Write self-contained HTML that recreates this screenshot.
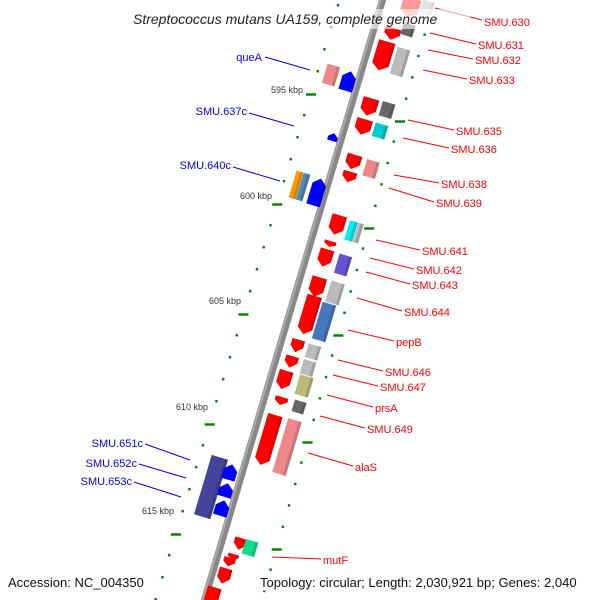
<!DOCTYPE html>
<html><head><meta charset="utf-8"><style>
body{margin:0;background:#fff;width:600px;height:600px;overflow:hidden}
svg{display:block}
text{font-family:"Liberation Sans","DejaVu Sans",sans-serif}
</style></head><body>
<svg id="s" width="600" height="600" viewBox="0 0 600 600" xmlns="http://www.w3.org/2000/svg">
<defs>
<g id="fa"><polygon points="-9,-7 9,-7 9,4 0,9 -9,4"/></g>
</defs>
<g id="dots"></g>
<!-- backbone -->
<line x1="384" y1="-5" x2="203" y2="605" stroke="#888" stroke-width="7"/>
<line x1="382" y1="-5" x2="201" y2="605" stroke="#aaa" stroke-width="2"/>
<g id="genes"></g>
<g stroke-width="1" fill="none">
<g stroke="#f00">
<line x1="435" y1="8" x2="482" y2="20"/><line x1="430" y1="33" x2="476" y2="44"/>
<line x1="428" y1="50" x2="473" y2="59"/><line x1="423" y1="70" x2="467" y2="79"/>
<line x1="408" y1="120" x2="454" y2="130"/><line x1="403" y1="138" x2="449" y2="148"/>
<line x1="394" y1="175" x2="439" y2="183"/><line x1="389" y1="188" x2="434" y2="202"/>
<line x1="376" y1="240" x2="420" y2="250"/><line x1="370" y1="258" x2="414" y2="269"/>
<line x1="366" y1="272" x2="410" y2="284"/><line x1="357" y1="298" x2="402" y2="311"/>
<line x1="348" y1="330" x2="394" y2="341"/><line x1="338" y1="360" x2="383" y2="371"/>
<line x1="333" y1="375" x2="378" y2="386"/><line x1="327" y1="395" x2="373" y2="407"/>
<line x1="320" y1="416" x2="365" y2="428"/><line x1="308" y1="453" x2="353" y2="466"/>
<line x1="272" y1="557" x2="321" y2="559"/>
</g>
<g stroke="#00f">
<line x1="265" y1="57" x2="310" y2="70"/><line x1="249" y1="113" x2="294" y2="126"/>
<line x1="233" y1="167" x2="280" y2="181"/><line x1="145" y1="444" x2="190" y2="460"/>
<line x1="139" y1="464" x2="186" y2="478"/><line x1="134" y1="482" x2="181" y2="497"/>
</g></g>
<g font-size="11" fill="#f00">
<text x="484" y="26">SMU.630</text><text x="478" y="49">SMU.631</text>
<text x="475" y="64">SMU.632</text><text x="469" y="84">SMU.633</text>
<text x="456" y="135">SMU.635</text><text x="451" y="153">SMU.636</text>
<text x="441" y="188">SMU.638</text><text x="436" y="207">SMU.639</text>
<text x="422" y="255">SMU.641</text><text x="416" y="274">SMU.642</text>
<text x="412" y="289">SMU.643</text><text x="404" y="316">SMU.644</text>
<text x="396" y="346">pepB</text><text x="385" y="376">SMU.646</text>
<text x="380" y="391">SMU.647</text><text x="375" y="412">prsA</text>
<text x="367" y="433">SMU.649</text><text x="355" y="471">alaS</text>
<text x="323" y="564">mutF</text>
</g>
<g font-size="11" fill="#00f" text-anchor="end">
<text x="262" y="61">queA</text><text x="247" y="115">SMU.637c</text>
<text x="231" y="169">SMU.640c</text><text x="143" y="447">SMU.651c</text>
<text x="137" y="467">SMU.652c</text><text x="132" y="485">SMU.653c</text>
</g>
<g font-size="9" fill="#333" text-anchor="end">
<text x="303" y="93">595 kbp</text><text x="272" y="199">600 kbp</text>
<text x="241" y="304">605 kbp</text><text x="208" y="410">610 kbp</text>
<text x="174" y="514">615 kbp</text>
</g>
<rect x="130" y="9" width="340" height="20" fill="#fff" opacity="0.6"/>
<text x="133" y="24" font-size="14" font-style="italic" fill="#222">Streptococcus mutans UA159, complete genome</text>
<rect x="5" y="573" width="150" height="18" fill="#fff" opacity="0.6"/>
<rect x="257" y="573" width="338" height="18" fill="#fff" opacity="0.6"/>
<text x="8" y="587" font-size="13" fill="#111">Accession: NC_004350</text>
<text x="260" y="587" font-size="13" fill="#111">Topology: circular; Length: 2,030,921 bp; Genes: 2,040</text>
</svg>
<script>
var NS="http://www.w3.org/2000/svg";
var dots=document.getElementById('dots'),G=document.getElementById('genes');
function el(t,a,p){var e=document.createElementNS(NS,t);for(var k in a)e.setAttribute(k,a[k]);(p||G).appendChild(e);return e;}
var A=16.6;
// ticks
for(var i=-4;i<30;i++){
 var y=93+22*i, x=311-0.307*(y-93), maj=(i%5==0);
 if(y>-5&&y<600) el('line',{x1:x-(maj?5:1.2),y1:y-(maj?-1.5:0),x2:x+(maj?5:1.2),y2:y+(maj?1.5:0.4),stroke:'#080','stroke-width':maj?2.5:2.5},dots);
 var y2=120+21.4*i, x2=400-0.288*(y2-120);
 if(y2>-5&&y2<600) el('line',{x1:x2-(maj?5:1.2),y1:y2-(maj?-1.5:0),x2:x2+(maj?5:1.2),y2:y2+(maj?1.5:0.4),stroke:'#080','stroke-width':2.5},dots);
}
function box(cx,cy,w,h,c,op){var g=el('g',{transform:'translate('+cx+','+cy+') rotate('+A+')',opacity:op||1});
 el('rect',{x:-w/2,y:-h/2,width:w,height:h,fill:c},g);
 el('rect',{x:w/2-3,y:-h/2,width:3,height:h,fill:'#000',opacity:0.15},g);}
function arr(cx,cy,w,h,c,up,op){var g=el('g',{transform:'translate('+cx+','+cy+') rotate('+A+')',opacity:op||1});
 var a=Math.min(6,h/2),p;
 if(!up)p=[-w/2,-h/2,w/2,-h/2,w/2,h/2-a,0,h/2,-w/2,h/2-a];else p=[-w/2,h/2,w/2,h/2,w/2,-h/2+a,0,-h/2,-w/2,-h/2+a];
 el('polygon',{points:p.join(','),fill:c},g);
 el('rect',{x:w/2-3,y:-h/2+(up?a:0),width:3,height:h-a,fill:'#000',opacity:0.12},g);}
var R='#f00';
arr(410,8,18,20,R,0,0.4);box(427,8,12,14,'#bbb',0.4);
box(408,30,12,12,'#666');arr(392,34,16,12,R);
arr(383,56,17,30,R);box(400,62,13,28,'#bbb');
arr(369,107,16,18,R);box(387,110,13,15,'#666');
arr(363,127,16,16,R);box(380,131,13,14,'#0cc');
arr(353,162,15,15,R);box(371,169,13,17,'#e88');
arr(349,177,14,11,R);
arr(337,225,15,20,R);box(351,231,8,20,'#0ee');box(358,233,6,20,'#bbb');
arr(330,244,12,6,R);
arr(325,258,14,18,R);box(343,265,13,20,'#65c');
arr(317,287,15,20,R);box(335,293,14,22,'#bbb');
arr(309,315,15,40,R);box(324,322,14,38,'#47b');
arr(297,346,13,13,R);box(313,352,13,14,'#bbb');
arr(291,362,13,12,R);box(308,368,13,15,'#bbb');
arr(284,380,14,19,R);box(304,386,14,20,'#bb7');
arr(281,401,13,8,R);box(299,407,12,12,'#666');
arr(268,440,15,52,R);box(287,447,14,56,'#e88');
box(211,487,17,62,'#449');
arr(230,472,14,16,'#00f',1);arr(226,490,14,14,'#00f',1);arr(222,508,14,16,'#00f',1);
arr(240,544,13,12,R);box(250,548,13,15,'#1d8');arr(233,557,11,6,R);arr(229,562,12,9,R);arr(224,576,13,16,R);
arr(212,597,14,20,R);
box(331,75,13,20,'#e88');arr(348,81,14,20,'#00f',1);
arr(333,137,10,8,'#00f',1);
box(296,185,7,28,'#f90');box(303,187,7,28,'#58b');arr(317,192,14,28,'#00f',1);
</script>
</body></html>
